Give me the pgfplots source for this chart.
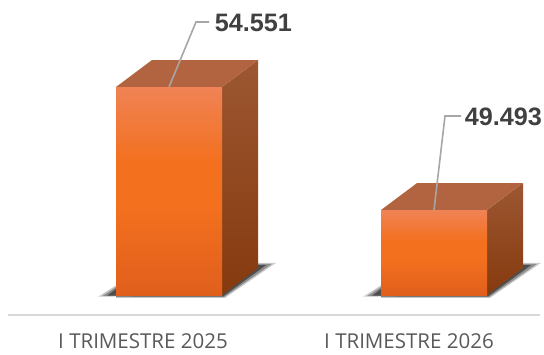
\documentclass[border=0pt]{standalone}
\usepackage{pgfplots}
\pgfplotsset{compat=1.18}
\usepackage{fontspec}
\setmainfont{Liberation Sans}
\newfontfamily\catfont{Open Sans}
\definecolor{labelgray}{HTML}{404040}
\definecolor{catgray}{HTML}{595959}
\definecolor{axisgray}{HTML}{D9D9D9}
\definecolor{leader}{HTML}{A6A6A6}
\definecolor{frontTop}{HTML}{F08355}
\definecolor{frontMid}{HTML}{F3701F}
\definecolor{frontBot}{HTML}{E05F1C}
\definecolor{topFace}{HTML}{B2633F}
\definecolor{sideTop}{HTML}{9C5732}
\definecolor{sideBot}{HTML}{863A0E}
% front face: pale band at the top, saturated orange through the middle
\pgfdeclareverticalshading{barfront}{100bp}{color(0bp)=(frontBot); color(25bp)=(frontBot); color(46bp)=(frontMid); color(57bp)=(frontMid); color(75bp)=(frontTop); color(100bp)=(frontTop)}
\begin{document}
\begin{tikzpicture}[x=1pt,y=1pt]
\useasboundingbox (0,0) rectangle (544,354);
\begin{axis}[
  at={(8pt,39pt)}, anchor=origin,
  scale only axis, width=532pt, height=315pt,
  xmin=8, xmax=540, ymin=45178, ymax=58130,
  clip=false,
  axis x line=bottom, axis y line=none,
  axis line style={axisgray, line width=1.2pt, -},
  xtick={143,409},
  xticklabels={I TRIMESTRE 2025, I TRIMESTRE 2026},
  major tick length=0pt,
  xticklabel style={catgray, font=\catfont\fontsize{20.5}{22}\selectfont, yshift=-15.5pt},
]
% soft ground shadows, widest and faintest first
\addplot[fill=black, fill opacity=.2, draw=none] coordinates {(98,45930) (116,46400) (116,45880) (225,45880) (276,47320) (258,47320) (222,46000)} -- cycle;
\addplot[fill=black, fill opacity=.3, draw=none] coordinates {(102,45950) (116,46330) (116,45910) (224,45910) (272,47280) (258,47280) (222,46000)} -- cycle;
\addplot[fill=black, fill opacity=.45, draw=none] coordinates {(107,45970) (116,46250) (116,45940) (223,45940) (266,47230) (258,47230) (222,46000)} -- cycle;
\addplot[fill=black, fill opacity=.2, draw=none] coordinates {(363,45930) (381,46400) (381,45880) (490,45880) (541,47320) (523,47320) (487,46000)} -- cycle;
\addplot[fill=black, fill opacity=.3, draw=none] coordinates {(367,45950) (381,46330) (381,45910) (489,45910) (537,47280) (523,47280) (487,46000)} -- cycle;
\addplot[fill=black, fill opacity=.45, draw=none] coordinates {(372,45970) (381,46250) (381,45940) (488,45940) (531,47230) (523,47230) (487,46000)} -- cycle;
% first column
\addplot[draw=none, shade, top color=sideTop, bottom color=sideBot] coordinates {(222,54551) (258,55661) (258,47110) (222,46000)} -- cycle;
\addplot[fill=topFace, draw=none] coordinates {(116,54551) (152,55661) (258,55661) (222,54551)} -- cycle;
\addplot[draw=none, shading=barfront] coordinates {(116,54551) (222,54551) (222,46000) (116,46000)} -- cycle;
% second column
\addplot[draw=none, shade, top color=sideTop, bottom color=sideBot] coordinates {(487,49493) (523,50603) (523,47110) (487,46000)} -- cycle;
\addplot[fill=topFace, draw=none] coordinates {(381,49493) (417,50603) (523,50603) (487,49493)} -- cycle;
\addplot[draw=none, shading=barfront] coordinates {(381,49493) (487,49493) (487,46000) (381,46000)} -- cycle;
% leader lines and value labels
\addplot[leader, line width=1.6pt] coordinates {(169,54551) (196,57226) (209,57226)}
  node[pos=1, anchor=west, inner sep=0pt, xshift=5pt, yshift=-1pt, text=labelgray, font=\bfseries\fontsize{25.2}{27}\selectfont] {54.551};
\addplot[leader, line width=1.6pt] coordinates {(434,49493) (445,53360) (461,53360)}
  node[pos=1, anchor=west, inner sep=0pt, xshift=3pt, yshift=-1pt, text=labelgray, font=\bfseries\fontsize{25.2}{27}\selectfont] {49.493};
\end{axis}
\end{tikzpicture}
\end{document}
